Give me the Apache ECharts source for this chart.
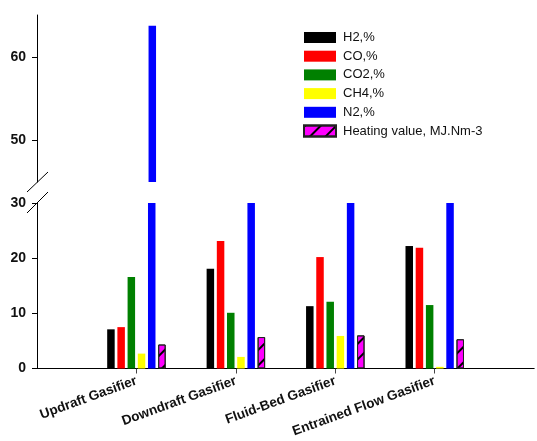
<!DOCTYPE html>
<html>
<head>
<meta charset="utf-8">
<script src="https://cdn.jsdelivr.net/npm/echarts@6/dist/echarts.min.js"></script>
<style>html,body{margin:0;padding:0;background:#fff}#c{width:537px;height:441px}</style>
</head>
<body>
<div id="c"></div>
<script>
// ---- data ----
const categories = ['Updraft Gasifier', 'Downdraft Gasifier', 'Fluid-Bed Gasifier', 'Entrained Flow Gasifier'];
const seriesNames = ['H2,%', 'CO,%', 'CO2,%', 'CH4,%', 'N2,%', 'Heating value, MJ.Nm-3'];
const h2 = [7.1, 18.1, 11.3, 22.2];
const co = [7.5, 23.1, 20.2, 21.9];
const co2 = [16.6, 10.1, 12.1, 11.5];
const ch4 = [2.7, 2.1, 5.9, 0.3];
const n2 = [63.7, 43, 40, 41];
const heatingValue = [4.35, 5.7, 6.0, 5.3];
const lowerTicks = [0, 10, 20, 30];
const upperTicks = [50, 60];
const upperRange = [45, 65];

const colors = ['#000000', '#ff0000', '#008000', '#ffff00', '#0000ff', '#ff00ff'];
const allData = [h2, co, co2, ch4, n2, heatingValue];

const cats = [''].concat(categories, ['']);
const pad = arr => [null].concat(arr, [null]);

const chart = echarts.init(document.getElementById('c'), null, {renderer: 'canvas'});

const series = [];
[0, 1].forEach(g => {
  allData.forEach((arr, i) => {
    const isHV = i === 5;
    const data = g === 0 ? pad(arr.map(v => v >= upperRange[0] ? v : null)) : pad(arr);
    series.push({
      name: seriesNames[i],
      type: 'bar',
      xAxisIndex: g,
      yAxisIndex: g,
      data: data,
      barWidth: 7.5,
      barGap: '36%',
      clip: true,
      itemStyle: isHV ? {
        color: colors[i],
        borderColor: '#222',
        borderWidth: 1,
        decal: {
          symbol: 'rect',
          symbolSize: 1,
          dashArrayX: [1, 0],
          dashArrayY: [1.5, 8.5],
          rotation: -Math.PI / 4,
          color: '#000'
        }
      } : {color: colors[i]},
      emphasis: {disabled: true}
    });
  });
});

const tickShow = (idx) => idx >= 1 && idx <= categories.length;

chart.setOption({
  animation: false,
  backgroundColor: '#fff',
  legend: {
    orient: 'vertical',
    left: 303,
    top: 31,
    padding: 0,
    itemWidth: 32,
    itemHeight: 11,
    itemGap: 5.7,
    icon: 'rect',
    data: seriesNames,
    textStyle: {fontFamily: 'Liberation Sans, Arial', fontSize: 13, color: '#111', padding: [0, 0, 0, 2]}
  },
  grid: [
    {left: 37, right: -4, top: 15, height: 167},
    {left: 37, right: -4, top: 203, height: 165.5}
  ],
  xAxis: [
    {gridIndex: 0, type: 'category', data: cats, boundaryGap: false, show: false},
    {
      gridIndex: 1, type: 'category', data: cats, boundaryGap: false,
      axisLine: {lineStyle: {color: '#000', width: 1}},
      axisTick: {show: true, length: 5, interval: tickShow, lineStyle: {color: '#444'}},
      axisLabel: {
        interval: 0, rotate: 20, margin: 12,
        fontFamily: 'Liberation Sans, Arial', fontWeight: 'bold', fontSize: 13.5, color: '#111'
      },
      splitLine: {show: false}
    }
  ],
  yAxis: [
    {
      gridIndex: 0, type: 'value', min: upperRange[0], max: upperRange[1],
      axisLine: {show: true, lineStyle: {color: '#000', width: 1}},
      axisTick: {show: true, length: 5, customValues: upperTicks, lineStyle: {color: '#000'}},
      axisLabel: {customValues: upperTicks, margin: 11, fontFamily: 'Liberation Sans, Arial', fontWeight: 'bold', fontSize: 14, color: '#111'},
      splitLine: {show: false}
    },
    {
      gridIndex: 1, type: 'value', min: lowerTicks[0], max: lowerTicks[lowerTicks.length - 1], interval: 10,
      axisLine: {show: true, lineStyle: {color: '#000', width: 1}},
      axisTick: {show: true, length: 5, lineStyle: {color: '#000'}},
      axisLabel: {margin: 11, fontFamily: 'Liberation Sans, Arial', fontWeight: 'bold', fontSize: 14, color: '#111'},
      splitLine: {show: false}
    }
  ],
  graphic: [
    {type: 'line', shape: {x1: 27, y1: 192, x2: 48, y2: 172}, style: {stroke: '#000', lineWidth: 1}},
    {type: 'line', shape: {x1: 27, y1: 213, x2: 48, y2: 192}, style: {stroke: '#000', lineWidth: 1}}
  ],
  series: series
});
</script>
</body>
</html>
